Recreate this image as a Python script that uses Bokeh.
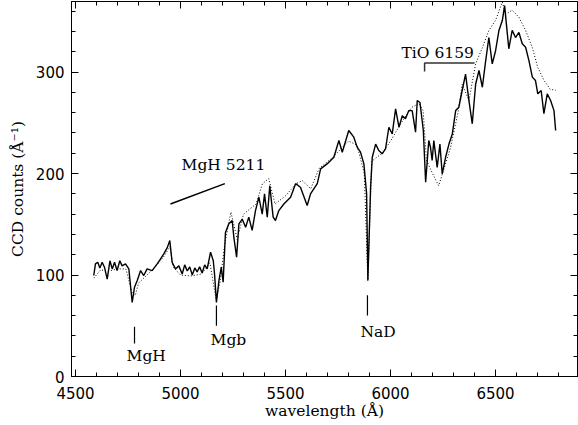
from bokeh.plotting import figure
from bokeh.models import LinearAxis, SingleIntervalTicker, Range1d, CustomJSTickFormatter
from bokeh.core.properties import value
from bokeh.embed import file_html
from bokeh.resources import INLINE

# observed spectrum (solid)
wl_obs = [4587, 4595, 4606, 4616, 4627, 4638, 4651, 4664, 4675, 4686, 4698, 4711, 4722, 4738,
          4754, 4765, 4770, 4781, 4794, 4810, 4825, 4841, 4865, 4889, 4905, 4921, 4937, 4949,
          4960, 4976, 4992, 5008, 5020, 5032, 5044, 5056, 5068, 5079, 5091, 5103, 5115, 5127,
          5143, 5156, 5162, 5171, 5183,
          5194, 5203, 5214, 5230, 5246, 5254, 5267, 5278, 5294, 5310, 5325, 5341, 5357, 5373,
          5389, 5400, 5413, 5425, 5441, 5452, 5468, 5492, 5524, 5548, 5571, 5603, 5619, 5651,
          5667, 5698, 5730, 5754, 5770, 5801, 5825, 5841, 5857, 5873, 5886, 5892, 5905, 5913,
          5929, 5944, 5960, 5976, 5992, 6008, 6024, 6040, 6056, 6071, 6087, 6103, 6119, 6127,
          6140, 6156, 6167, 6182, 6190, 6198, 6206, 6222, 6235, 6246, 6262, 6278, 6294, 6310,
          6325, 6341, 6357, 6373, 6389, 6405, 6421, 6437, 6452, 6468, 6484, 6500, 6516, 6532,
          6543, 6556, 6563, 6579, 6595, 6611, 6627, 6643, 6659, 6675, 6690, 6701, 6717, 6730,
          6746, 6762, 6778, 6786]
flux_obs = [99.5, 111, 112.6, 107, 112.6, 107.7, 96, 114, 106, 112.6, 104.4, 114, 109, 111,
            106, 83, 73, 88, 94.6, 104.4, 99.5, 106, 104.4, 111, 116, 121, 127, 134,
            112.6, 106, 109, 101, 110, 104, 108, 100, 107, 103, 108, 102, 110, 106,
            122.5, 114, 101, 73, 94.6,
            107.7, 93, 142, 150.4, 153.7, 137, 117.5, 150.4, 155, 147, 157, 144, 163.5, 176.7,
            160, 180, 157, 188, 157, 153.7, 163.5, 170, 176.7, 190, 186.5, 168.5, 180, 190,
            204.6, 209.5, 216, 232.5, 221, 242.4, 235.8, 226, 221, 209.5, 180, 95, 186.5, 216,
            229, 222.7, 219.4, 224.3, 245.6, 239, 263.7, 245.6, 257, 254, 262, 262, 240.7, 272,
            270, 242.4, 191.4, 232.5, 226, 212.8, 232.5, 206, 229, 199.7, 216, 229, 239, 262,
            265.3, 281.8, 298, 272, 249, 288, 301.5, 285, 309.7, 334, 308, 321, 341, 350.7,
            365.5, 337.6, 322.9, 341, 334, 339, 327.8, 324.4, 311, 295, 291.6, 278.5, 281.8, 259,
            278.5, 272, 262, 242.4]

# comparison spectrum (dotted)
wl_cmp = [4587, 4620, 4660, 4700, 4740, 4770, 4785, 4800, 4840, 4880, 4920, 4950, 4965, 5000,
          5050, 5100, 5140, 5170, 5190, 5210, 5240, 5270, 5300, 5330, 5360, 5390, 5420, 5450,
          5500, 5550, 5580, 5620, 5660, 5720, 5800, 5840, 5875, 5892, 5910, 5960, 6000, 6048,
          6100, 6135, 6155, 6171, 6200, 6229, 6255, 6286, 6320, 6341, 6373, 6405, 6437, 6468,
          6500, 6532, 6548, 6579, 6611, 6643, 6675, 6700, 6730, 6760, 6786]
flux_cmp = [97, 105, 104, 106, 106, 82, 80, 92, 100, 108, 118, 128, 108, 100,
            99, 101, 112, 75, 95, 130, 162, 135, 160, 165, 170, 190, 195, 170,
            178, 190, 193, 185, 205, 215, 232, 228, 200, 94, 212, 220, 232, 249,
            265, 269, 262, 213, 200, 188, 205, 226, 259, 288, 272, 308, 324, 341,
            351, 369, 357, 361, 354, 341, 324, 305, 292, 283, 282]

# feature labels
feat_names = ["MgH", "Mgb", "NaD"]
feat_wl = [4781, 5171, 5890]
feat_y0 = [32.5, 50, 60]
feat_y1 = [49, 70, 80]
feat_text_x = [4743, 5143, 5857]
feat_text_y = [20, 35.5, 43.7]

band_names = ["MgH 5211", "TiO 6159"]
band_text_x = [5005, 6052]
band_text_y = [208, 319]

SERIF = "DejaVu Serif"
SANS = "DejaVu Sans"

p = figure(width=578, height=425, output_backend="svg", toolbar_location=None,
           x_range=Range1d(4481, 6890), y_range=Range1d(0, 369.5),
           min_border_left=71, min_border_right=1, min_border_top=1, min_border_bottom=49,
           x_axis_label="wavelength (Å)", y_axis_label="CCD counts (Å⁻¹)")
p.background_fill_color = "white"
p.border_fill_color = "white"
p.outline_line_color = "black"
p.grid.visible = False

xt = SingleIntervalTicker(interval=500, num_minor_ticks=5)
yt = SingleIntervalTicker(interval=100, num_minor_ticks=5)
p.xaxis.ticker = xt
p.yaxis.ticker = yt

for ax in [p.xaxis[0], p.yaxis[0]]:
    ax.major_tick_in = 7
    ax.major_tick_out = 0
    ax.minor_tick_in = 4
    ax.minor_tick_out = 0
    ax.axis_line_color = "black"
    ax.major_tick_line_color = "black"
    ax.minor_tick_line_color = "black"
    ax.major_label_text_font = SANS
    ax.major_label_text_font_size = "15px"
    ax.major_label_text_color = "black"
    ax.axis_label_text_font = SERIF
    ax.axis_label_text_font_size = "15.5px"
    ax.axis_label_text_font_style = "normal"
    ax.axis_label_text_color = "black"
p.xaxis.major_label_standoff = 10
p.xaxis.axis_label_standoff = 0
p.yaxis.major_label_standoff = 7
p.yaxis.axis_label_standoff = 6

blank = CustomJSTickFormatter(code="return ''")
ax_r = LinearAxis(ticker=SingleIntervalTicker(interval=100, num_minor_ticks=5), formatter=blank,
                  major_tick_in=7, major_tick_out=0, minor_tick_in=4, minor_tick_out=0,
                  major_label_text_font_size="0px", major_label_standoff=0)
ax_t = LinearAxis(ticker=SingleIntervalTicker(interval=500, num_minor_ticks=5), formatter=blank,
                  major_tick_in=7, major_tick_out=0, minor_tick_in=4, minor_tick_out=0,
                  major_label_text_font_size="0px", major_label_standoff=0)
p.add_layout(ax_r, "right")
p.add_layout(ax_t, "above")

p.line(wl_cmp, flux_cmp, line_color="black", line_width=1, line_dash="1 2")
p.line(wl_obs, flux_obs, line_color="black", line_width=1.4)

p.segment(x0=feat_wl, y0=feat_y0, x1=feat_wl, y1=feat_y1, line_color="black", line_width=1.2)
p.text(x=feat_text_x, y=feat_text_y, text=feat_names, text_font=value(SERIF),
       text_font_size="15.5px", text_align="left", text_baseline="alphabetic", text_color="black")

# MgH 5211 band line and TiO bracket
p.segment(x0=[4952], y0=[170], x1=[5211], y1=[190], line_color="black", line_width=1.5)
p.line(x=[6162, 6162, 6400], y=[300.5, 309, 309], line_color="#333333", line_width=1.5)
p.text(x=band_text_x, y=band_text_y, text=band_names, text_font=value(SERIF),
       text_font_size="15.5px", text_align="left", text_baseline="alphabetic", text_color="black")

open("out.html", "w").write(file_html(p, INLINE))
